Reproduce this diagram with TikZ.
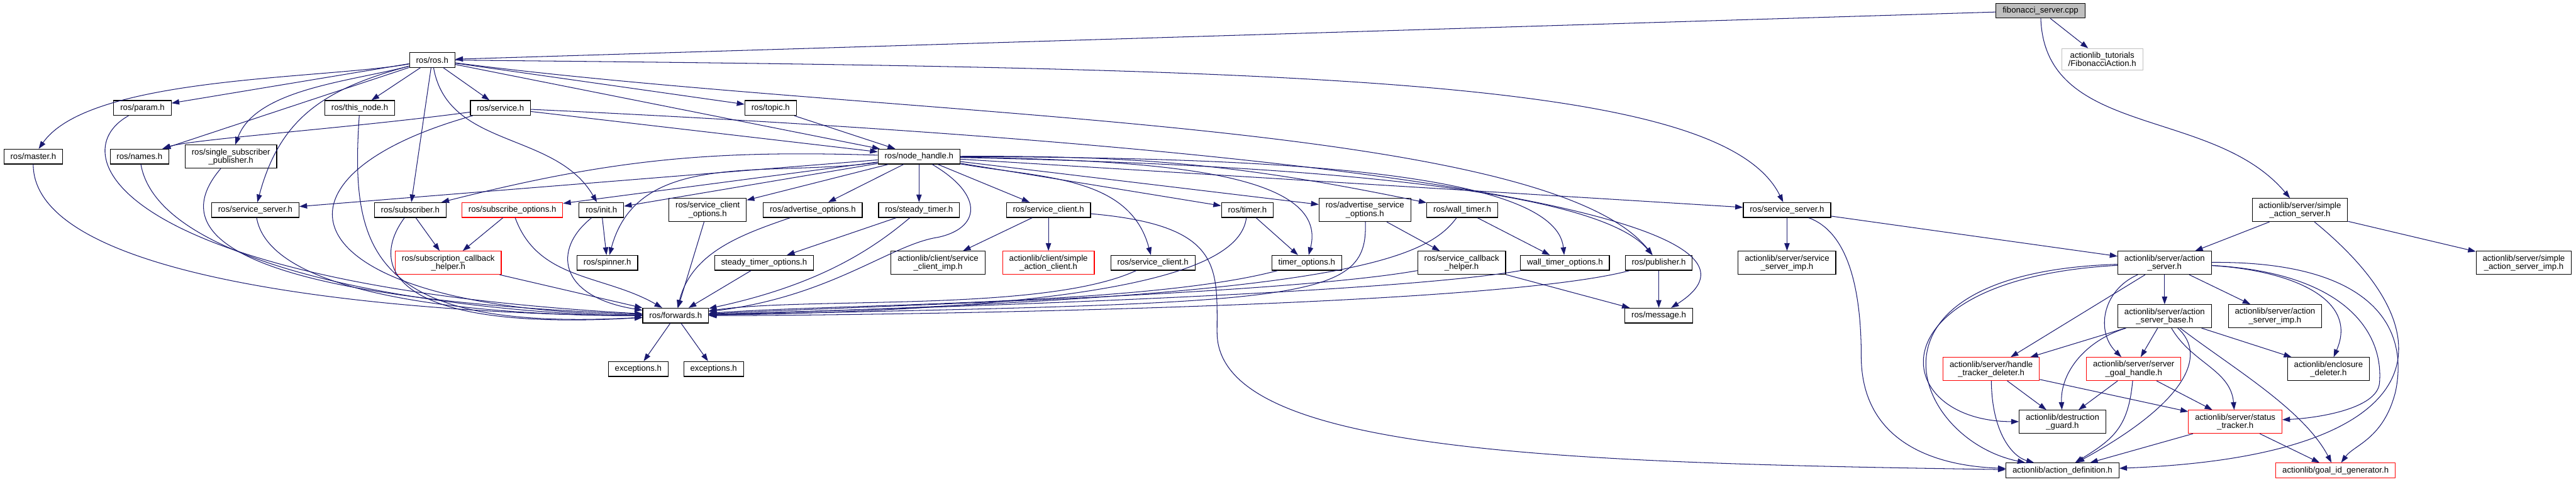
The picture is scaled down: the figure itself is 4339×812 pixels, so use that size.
\documentclass[tikz,border=0pt]{standalone}
\usepackage{fontspec}
\setmainfont{Liberation Sans}
\usetikzlibrary{arrows.meta}

\definecolor{depblue}{HTML}{191970}
\definecolor{rootgray}{HTML}{BFBFBF}

\begin{document}
\begin{tikzpicture}[
    x=1pt, y=1pt,
    >={Triangle[length=13pt,width=9pt]},
    file/.style={draw=black, line width=1.2pt, fill=white, align=center,
      inner xsep=11pt, inner ysep=6pt, minimum height=25pt,
      font=\fontsize{14}{14}\selectfont},
    redfile/.style={file, draw=red},
    extfile/.style={file, draw=rootgray},
    rootfile/.style={file, fill=rootgray},
    dep/.style={->, draw=depblue, line width=1.1pt}
  ]
  \node[rootfile] (fib) at (3437,-18) {fibonacci\_server.cpp};
  \node[extfile] (fibact) at (3541,-100) {actionlib\_tutorials\\/FibonacciAction.h};
  \node[file] (rosh) at (728,-101) {ros/ros.h};
  \node[file] (param) at (240,-182) {ros/param.h};
  \node[file] (thisnode) at (606,-182) {ros/this\_node.h};
  \node[file] (service) at (843,-182) {ros/service.h};
  \node[file] (topic) at (1298,-182) {ros/topic.h};
  \node[file] (master) at (56,-264) {ros/master.h};
  \node[file] (names) at (235,-264) {ros/names.h};
  \node[file] (ssp) at (389,-264) {ros/single\_subscriber\\\_publisher.h};
  \node[file] (nh) at (1548,-264) {ros/node\_handle.h};
  \node[file] (ssl) at (430,-354) {ros/service\_server.h};
  \node[file] (sub) at (691,-354) {ros/subscriber.h};
  \node[redfile] (subopt) at (863,-354) {ros/subscribe\_options.h};
  \node[file] (init) at (1013,-354) {ros/init.h};
  \node[file] (sco) at (1192,-354) {ros/service\_client\\\_options.h};
  \node[file] (advopt) at (1369,-354) {ros/advertise\_options.h};
  \node[file] (stimer) at (1548,-354) {ros/steady\_timer.h};
  \node[file] (sca) at (1766,-354) {ros/service\_client.h};
  \node[file] (timer) at (2101,-354) {ros/timer.h};
  \node[file] (asopt) at (2299,-354) {ros/advertise\_service\\\_options.h};
  \node[file] (wtimer) at (2463,-354) {ros/wall\_timer.h};
  \node[file] (ssr) at (3010,-354) {ros/service\_server.h};
  \node[file] (sas) at (3874,-354) {actionlib/server/simple\\\_action\_server.h};
  \node[redfile] (scbh) at (755,-443) {ros/subscription\_callback\\\_helper.h};
  \node[file] (spinner) at (1023,-443) {ros/spinner.h};
  \node[file] (stopt) at (1287,-443) {steady\_timer\_options.h};
  \node[file] (scimp) at (1580,-443) {actionlib/client/service\\\_client\_imp.h};
  \node[redfile] (sac) at (1766,-443) {actionlib/client/simple\\\_action\_client.h};
  \node[file] (scb) at (1942,-443) {ros/service\_client.h};
  \node[file] (topt) at (2201,-443) {timer\_options.h};
  \node[file] (svcbh) at (2462,-443) {ros/service\_callback\\\_helper.h};
  \node[file] (wtopt) at (2636,-443) {wall\_timer\_options.h};
  \node[file] (pub) at (2794,-443) {ros/publisher.h};
  \node[file] (ssimp) at (3010,-443) {actionlib/server/service\\\_server\_imp.h};
  \node[file] (as) at (3646,-443) {actionlib/server/action\\\_server.h};
  \node[file] (sasimp) at (4251,-443) {actionlib/server/simple\\\_action\_server\_imp.h};
  \node[file] (fwd) at (1138,-532) {ros/forwards.h};
  \node[file] (msg) at (2794,-532) {ros/message.h};
  \node[file] (asbase) at (3646,-533) {actionlib/server/action\\\_server\_base.h};
  \node[file] (asimp) at (3832,-533) {actionlib/server/action\\\_server\_imp.h};
  \node[file] (exca) at (1075,-622) {exceptions.h};
  \node[file] (excb) at (1202,-622) {exceptions.h};
  \node[redfile] (htd) at (3354,-622) {actionlib/server/handle\\\_tracker\_deleter.h};
  \node[redfile] (sgh) at (3594,-622) {actionlib/server/server\\\_goal\_handle.h};
  \node[file] (encl) at (3922,-622) {actionlib/enclosure\\\_deleter.h};
  \node[file] (dguard) at (3474,-711) {actionlib/destruction\\\_guard.h};
  \node[redfile] (stracker) at (3765,-711) {actionlib/server/status\\\_tracker.h};
  \node[file] (adef) at (3474,-793) {actionlib/action\_definition.h};
  \node[redfile] (goalid) at (3934,-793) {actionlib/goal\_id\_generator.h};

  % fibonacci_server.cpp
  \draw[dep] (fib) -- (rosh);
  \draw[dep] (fib) -- (fibact);
  \draw[dep] (fib) to[out=-88,in=130] (sas);
  % ros/ros.h
  \draw[dep] (rosh) to[out=190,in=55,looseness=0.6] (master);
  \draw[dep] (rosh) -- (param);
  \draw[dep] (rosh) -- (names);
  \draw[dep] (rosh) to[out=195,in=70,looseness=0.8] (ssp);
  \draw[dep] (rosh) to[out=195,in=75,looseness=1.1] (ssl);
  \draw[dep] (rosh) -- (thisnode);
  \draw[dep] (rosh) -- (sub);
  \draw[dep] (rosh) to[out=-80,in=120] (init);
  \draw[dep] (rosh) -- (service);
  \draw[dep] (rosh) -- (topic);
  \draw[dep] (rosh) -- (nh);
  \draw[dep] (rosh) .. controls (1500,-200) and (2600,-200) .. (pub);
  \draw[dep] (rosh) .. controls (2200,-115) and (2900,-130) .. (ssr);
  % ros/service.h
  \draw[dep] (service) .. controls (600,-215) and (320,-235) .. (names);
  \draw[dep] (service) -- (nh);
  \draw[dep] (service) .. controls (2300,-250) and (3050,-370) .. (msg);
  \draw[dep] (service) .. controls (420,-300) and (480,-520) .. (fwd);
  % ros/topic.h
  \draw[dep] (topic) -- (nh);
  % ros/node_handle.h
  \draw[dep] (nh) -- (ssl);
  \draw[dep] (nh) to[bend right=8] (sub);
  \draw[dep] (nh) -- (subopt);
  \draw[dep] (nh) -- (init);
  \draw[dep] (nh) to[out=188,in=75] (spinner);
  \draw[dep] (nh) -- (sco);
  \draw[dep] (nh) -- (advopt);
  \draw[dep] (nh) -- (stimer);
  \draw[dep] (nh) -- (sca);
  \draw[dep] (nh) to[out=-10,in=105] (scb);
  \draw[dep] (nh) -- (timer);
  \draw[dep] (nh) -- (asopt);
  \draw[dep] (nh) to[bend left=6] (wtimer);
  \draw[dep] (nh) -- (ssr);
  \draw[dep] (nh) .. controls (2300,-280) and (2700,-330) .. (pub);
  \draw[dep] (nh) .. controls (1950,-270) and (2240,-290) .. (topt);
  \draw[dep] (nh) .. controls (2150,-265) and (2620,-290) .. (wtopt);
  % second row
  \draw[dep] (sub) -- (scbh);
  \draw[dep] (subopt) -- (scbh);
  \draw[dep] (init) -- (spinner);
  \draw[dep] (stimer) -- (stopt);
  \draw[dep] (sca) -- (scimp);
  \draw[dep] (sca) -- (sac);
  \draw[dep] (sca) .. controls (2060,-380) and (2050,-450) .. (2050,-560)
    .. controls (2050,-760) and (2600,-780) .. (adef);
  \draw[dep] (timer) -- (topt);
  \draw[dep] (asopt) -- (svcbh);
  \draw[dep] (wtimer) -- (wtopt);
  \draw[dep] (svcbh) -- (msg);
  \draw[dep] (pub) -- (msg);
  % everything into ros/forwards.h
  \draw[dep] (master) .. controls (56,-504) and (856,-532) .. (fwd);
  \draw[dep] (param) .. controls (100,-260) and (200,-480) .. (fwd);
  \draw[dep] (names) .. controls (273,-481) and (875,-532) .. (fwd);
  \draw[dep] (ssp) .. controls (290,-380) and (340,-500) .. (fwd);
  \draw[dep] (ssl) .. controls (459,-522) and (925,-532) .. (fwd);
  \draw[dep] (thisnode) .. controls (590,-420) and (620,-560) .. (fwd);
  \draw[dep] (sub) .. controls (620,-450) and (660,-560) .. (fwd);
  \draw[dep] (scbh) -- (fwd);
  \draw[dep] (subopt) to[out=-70,in=150] (fwd);
  \draw[dep] (init) .. controls (930,-420) and (940,-500) .. (fwd);
  \draw[dep] (sco) -- (fwd);
  \draw[dep] (advopt) .. controls (1250,-395) and (1165,-425) .. (fwd);
  \draw[dep] (stopt) -- (fwd);
  \draw[dep] (stimer) .. controls (1470,-420) and (1380,-480) .. (fwd);
  \draw[dep] (nh) .. controls (1660,-330) and (1650,-385) .. (1580,-400)
    .. controls (1500,-412) and (1400,-500) .. (fwd);
  \draw[dep] (scb) .. controls (1761,-527) and (1362,-500) .. (fwd);
  \draw[dep] (timer) .. controls (2090,-440) and (1950,-520) .. (fwd);
  \draw[dep] (topt) .. controls (1936,-514) and (1419,-512) .. (fwd);
  \draw[dep] (asopt) .. controls (2305,-510) and (2200,-510) .. (fwd);
  \draw[dep] (svcbh) .. controls (2157,-497) and (1428,-517) .. (fwd);
  \draw[dep] (wtimer) .. controls (2400,-440) and (2250,-500) .. (fwd);
  \draw[dep] (wtopt) .. controls (2323,-498) and (1435,-522) .. (fwd);
  \draw[dep] (pub) .. controls (2510,-519) and (1440,-532) .. (fwd);
  % ros/forwards.h
  \draw[dep] (fwd) -- (exca);
  \draw[dep] (fwd) -- (excb);
  % ros/service_server.h (actionlib side)
  \draw[dep] (ssr) -- (ssimp);
  \draw[dep] (ssr) -- (as);
  \draw[dep] (ssr) .. controls (3110,-390) and (3135,-480) .. (3135,-600)
    .. controls (3135,-740) and (3250,-785) .. (adef);
  % actionlib/server/simple_action_server.h
  \draw[dep] (sas) -- (as);
  \draw[dep] (sas) -- (sasimp);
  \draw[dep] (sas) .. controls (4150,-580) and (4080,-770) .. (adef);
  % actionlib/server/action_server.h
  \draw[dep] (as) -- (asbase);
  \draw[dep] (as) -- (asimp);
  \draw[dep] (as) -- (htd);
  \draw[dep] (as) .. controls (3540,-490) and (3530,-560) .. (sgh);
  \draw[dep] (as) .. controls (3150,-470) and (3180,-710) .. (dguard);
  \draw[dep] (as) .. controls (3110,-460) and (3220,-740) .. (adef);
  \draw[dep] (as) .. controls (3850,-455) and (3975,-500) .. (encl);
  \draw[dep] (as) .. controls (3950,-460) and (4015,-560) .. (4008,-645)
    .. controls (4005,-690) and (3900,-705) .. (stracker);
  \draw[dep] (as) .. controls (3980,-440) and (4060,-540) .. (4035,-660)
    .. controls (4015,-740) and (3965,-750) .. (goalid);
  % actionlib/server/action_server_base.h
  \draw[dep] (asbase) -- (htd);
  \draw[dep] (asbase) -- (sgh);
  \draw[dep] (asbase) -- (encl);
  \draw[dep] (asbase) .. controls (3510,-575) and (3470,-630) .. (dguard);
  \draw[dep] (asbase) .. controls (3720,-600) and (3680,-680) .. (adef);
  \draw[dep] (asbase) to[out=-60,in=95] (stracker);
  \draw[dep] (asbase) .. controls (3760,-620) and (3880,-690) .. (goalid);
  % handle tracker, goal handle, status tracker
  \draw[dep] (htd) -- (dguard);
  \draw[dep] (htd) -- (stracker);
  \draw[dep] (htd) .. controls (3355,-730) and (3390,-770) .. (adef);
  \draw[dep] (sgh) -- (dguard);
  \draw[dep] (sgh) -- (stracker);
  \draw[dep] (sgh) .. controls (3585,-720) and (3560,-740) .. (adef);
  \draw[dep] (stracker) -- (adef);
  \draw[dep] (stracker) -- (goalid);

  \pgfresetboundingbox
  \path[use as bounding box] (0,0) rectangle (4339,-812);
\end{tikzpicture}
\end{document}
